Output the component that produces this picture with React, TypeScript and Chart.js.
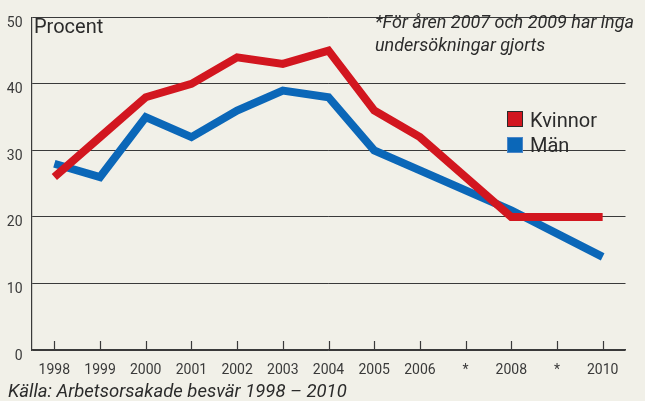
import React, { useEffect, useRef } from "react";
import { Chart, registerables } from "chart.js";

Chart.register(...registerables);

const years = ["1998", "1999", "2000", "2001", "2002", "2003", "2004", "2005", "2006", "*", "2008", "*", "2010"];
const kvinnor: (number | null)[] = [26, 32, 38, 40, 44, 43, 45, 36, 32, null, 20, null, 20];
const man: (number | null)[] = [28, 26, 35, 32, 36, 39, 38, 30, 27, null, 21, null, 14];
const seriesLabels = ["Kvinnor", "Män"];
const seriesColors = ["#d2161f", "#0b67b8"];
const yTitle = "Procent";
const noteLines = ["*För åren 2007 och 2009 har inga", "undersökningar gjorts"];
const source = "Källa: Arbetsorsakade besvär 1998 – 2010";

const BG = "#f1f0e8";
const GRID = "#3a3a3a";
const FONT = "Roboto";

export default function App() {
  const ref = useRef<HTMLCanvasElement>(null);

  useEffect(() => {
    const canvas = ref.current;
    if (!canvas) return;

    const bgPlugin = {
      id: "bg",
      beforeDraw(chart: any) {
        const { ctx, width, height } = chart;
        ctx.save();
        ctx.fillStyle = BG;
        ctx.fillRect(0, 0, width, height);
        ctx.restore();
      },
    };

    const tickPlugin = {
      id: "xticks",
      beforeDatasetsDraw(chart: any) {
        const { ctx, chartArea } = chart;
        const xs = chart.scales.x;
        ctx.save();
        ctx.strokeStyle = GRID;
        ctx.lineWidth = 1.2;
        for (let i = 0; i < years.length; i++) {
          const x = Math.round(xs.getPixelForValue(i)) + 0.5;
          ctx.beginPath();
          ctx.moveTo(x, chartArea.bottom - 9);
          ctx.lineTo(x, chartArea.bottom);
          ctx.stroke();
        }
        ctx.restore();
      },
    };

    const textPlugin = {
      id: "texts",
      afterDraw(chart: any) {
        const ctx = chart.ctx;
        ctx.save();
        ctx.textAlign = "left";
        ctx.textBaseline = "alphabetic";
        ctx.fillStyle = "#2b2b2b";
        ctx.font = `20px ${FONT}`;
        ctx.fillText(yTitle, 34, 33);

        ctx.font = `italic 18px ${FONT}`;
        ctx.fillText(noteLines[0], 375, 28);
        ctx.fillText(noteLines[1], 375, 51);

        ctx.font = `italic 18.5px ${FONT}`;
        ctx.fillText(source, 8, 397);

        // legend
        const ds = chart.data.datasets;
        const boxX = 507;
        const boxYs = [111, 137];
        const textYs = [127, 152];
        ds.forEach((d: any, i: number) => {
          ctx.fillStyle = d.borderColor;
          ctx.fillRect(boxX, boxYs[i], 16, 16);
          ctx.lineWidth = 1;
          ctx.strokeStyle = i === 0 ? "#2a2a2a" : "#4a86c8";
          ctx.strokeRect(boxX + 0.5, boxYs[i] + 0.5, 15, 15);
          ctx.fillStyle = "#2b2b2b";
          ctx.font = `20px ${FONT}`;
          ctx.fillText(d.label, 530, textYs[i]);
        });
        ctx.restore();
      },
    };

    const chart = new Chart(canvas, {
      type: "line",
      data: {
        labels: years,
        datasets: [
          {
            label: seriesLabels[0],
            data: kvinnor,
            borderColor: seriesColors[0],
            backgroundColor: seriesColors[0],
            borderWidth: 8,
            borderJoinStyle: "miter",
            borderCapStyle: "butt",
            pointRadius: 0,
            tension: 0,
            spanGaps: true,
          },
          {
            label: seriesLabels[1],
            data: man,
            borderColor: seriesColors[1],
            backgroundColor: seriesColors[1],
            borderWidth: 8,
            borderJoinStyle: "miter",
            borderCapStyle: "butt",
            pointRadius: 0,
            tension: 0,
            spanGaps: true,
          },
        ],
      },
      options: {
        responsive: false,
        animation: false,
        devicePixelRatio: 1,
        layout: { padding: { left: 0, top: 13, right: 19.5, bottom: 0 } },
        plugins: {
          legend: { display: false },
          tooltip: { enabled: false },
          title: { display: false },
        },
        scales: {
          x: {
            type: "category",
            offset: true,
            grid: { display: false, drawTicks: false },
            border: { display: true, color: GRID, width: 1.2 },
            ticks: {
              color: "#3a3a3a",
              font: { family: FONT, size: 14 },
              padding: 12,
              maxRotation: 0,
              autoSkip: false,
            },
            afterFit(scale: any) {
              scale.height = 51;
            },
          },
          y: {
            min: 0,
            max: 50,
            ticks: {
              stepSize: 10,
              color: "#3a3a3a",
              font: { family: FONT, size: 14 },
              padding: 9,
              labelOffset: 6,
            },
            grid: { color: GRID, lineWidth: 1, drawTicks: false },
            border: { display: true, color: GRID, width: 1.2 },
            afterFit(scale: any) {
              scale.width = 31.5;
            },
          },
        },
      },
      plugins: [bgPlugin, tickPlugin, textPlugin],
    } as any);

    return () => chart.destroy();
  }, []);

  return (
    <div style={{ position: "absolute", left: 0, top: 0, width: 645, height: 401, background: BG }}>
      <canvas ref={ref} width={645} height={401} style={{ display: "block", width: 645, height: 401 }} />
    </div>
  );
}
